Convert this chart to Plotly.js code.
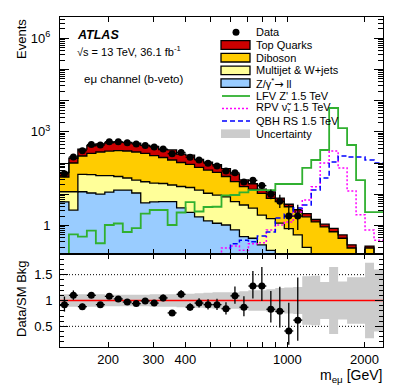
<!DOCTYPE html>
<html>
<head>
<meta charset="utf-8">
<script src="https://cdn.plot.ly/plotly-3.0.1.min.js"></script>
<style>
html, body { margin: 0; padding: 0; background: #fff; }
#plot { width: 407px; height: 391px; }
</style>
</head>
<body>
<div id="plot"></div>
<script>
// e-mu invariant mass, b-veto selection

var binEdges = [129.7, 140.5, 152.3, 165.1, 179.0, 194.0, 210.3, 228.0, 247.1, 267.9, 290.4, 314.7,
    341.1, 369.8, 400.8, 434.5, 471.0, 510.5, 553.4, 599.8, 650.2, 704.8, 763.9, 828.1, 897.6, 972.9,
    1054.6, 1143.2, 1239.1, 1343.2, 1455.9, 1578.1, 1710.6, 1854.3, 2009.9, 2178.7, 2361.6];

// backgrounds, events per bin
var zJets = [5.7, 3.1, 12.1, 11.0, 10.2, 11.8, 13.7, 13.7, 11.0, 5.3, 5.7, 5.8, 5.8, 3.7, 2.65, 1.9, 1.4, 1.18,
    1.04, 0.72, 0.44, 0.39, 0.24, 0.16, 0, 0, 0, 0, 0, 0, 0, 0, 0, 0, 0, 0];
var multijet = [6.4, 9.0, 31.7, 31.5, 29.8, 28.2, 23.5, 19.6, 17.7, 20.0, 17.3, 16.4, 14.1, 14.1, 13.9, 11.8, 9.4, 8.3,
    7.2, 5.1, 4.1, 3.2, 1.9, 1.5, 1.2, 0.8, 0.5, 0.2, 0, 0, 0, 0, 0, 0, 0, 0];
var diboson = [23.8, 88.6, 125, 164, 187, 204, 213, 211, 198, 181, 152, 129, 106, 87, 74, 59, 49, 41,
    29, 19.5, 13.0, 10.9, 8.6, 5.8, 4.6, 3.2, 2.2, 1.7, 1.3, 0.9, 0.63, 0.39, 0.19, 0, 0.19, 0];
var topQuarks = [14.3, 42.4, 114, 154, 187, 206, 220, 221, 210, 163, 170, 120, 139, 90, 89, 60, 48, 38,
    29.5, 19.7, 11.4, 7.3, 4.0, 4.5, 1.8, 0.8, 0.5, 0.5, 0.26, 0.2, 0.18, 0.11, 0.05, 0, 0.03, 0];

// signals
var lfvZprime = [0, 0.52, 0.44, 0.69, 0.27, 1.04, 1.16, 0.62, 0.83, 2.42, 3.14, 3.14, 1.04, 2.61, 5.66, 2.81, 3.92, 4.0,
    9.2, 9.5, 11.6, 13.7, 13.7, 13.7, 21.4, 21.4, 21.4, 70, 126, 263, 5830, 1320, 380, 28.7, 2.7, 2.7];
var rpvSneutrino = [0, 0, 0, 0, 0, 0, 0, 0, 0, 0, 0, 0, 0, 0, 0, 0, 0, 0,
    0.19, 0.22, 0.16, 0.26, 0.28, 0.72, 1.04, 1.29, 2.71, 6.6, 17.5, 101, 244, 70, 12.8, 2.2, 0.72, 0.34];
var qbhRS = [0, 0, 0, 0, 0, 0, 0, 0, 0, 0, 0, 0, 0, 0, 0, 0, 0, 0,
    0, 0.26, 0.34, 0.30, 0.46, 0.62, 1.74, 2.34, 3.64, 4.54, 13.7, 33.3, 108, 169, 157, 157, 126, 101];

// data (first 27 bins, rest empty)
var dataCounts = [46, 157, 250, 395, 380, 485, 485, 451, 409, 367, 328, 283, 200, 219, 155, 126, 99, 81,
    56, 49, 25, 28, 19, 10, 6, 2, 2];
var ratioValues = [0.92, 1.10, 0.88, 1.10, 0.92, 1.08, 1.03, 0.97, 0.94, 0.99, 0.95, 1.05, 0.76, 1.12, 0.87, 0.95, 0.92, 0.92,
    0.84, 1.09, 0.87, 1.28, 1.28, 0.83, 0.79, 0.41, 0.62];
// relative uncertainty on the background, per bin
var bkgUncert = [0.12, 0.12, 0.12, 0.12, 0.12, 0.11, 0.11, 0.11, 0.11, 0.11, 0.12, 0.12, 0.12, 0.13, 0.13, 0.14, 0.15, 0.16,
    0.16, 0.16, 0.18, 0.20, 0.20, 0.22, 0.24, 0.25, 0.26, 0.47, 0.48, 0.36, 0.65, 0.37, 0.45, 0.45, 0.73, 0.60];

var xTickVals = [200, 300, 400, 500, 600, 700, 800, 900, 1000, 2000];
var xTickText = ['200', '300', '400', '', '', '', '', '', '1000', '2000'];

var FONT = 'Liberation Sans, Arial, Helvetica, sans-serif';
var FLOOR = 0.001;

function floorVal(v) { return v > FLOOR ? v : FLOOR; }
function stepY(vals) {
    var out = vals.map(floorVal);
    out.push(out[out.length - 1]);
    return out;
}
function addUp(a, b) { return a.map(function (v, i) { return v + b[i]; }); }

var cumZ = zJets.slice();
var cumMJ = addUp(cumZ, multijet);
var cumVV = addUp(cumMJ, diboson);
var cumTop = addUp(cumVV, topQuarks);

var centers = [];
for (var i = 0; i < binEdges.length - 1; i++) centers.push(Math.sqrt(binEdges[i] * binEdges[i + 1]));

// Poisson-like errors (Gehrels approximations)
var nData = dataCounts.length;
var dataX = centers.slice(0, nData);
var errUp = dataCounts.map(function (n) { return Math.sqrt(n + 0.75) + 1; });
var errDown = dataCounts.map(function (n) {
    return n - n * Math.pow(1 - 1 / (9 * n) - 1 / (3 * Math.sqrt(n)), 3);
});
var xPlus = dataX.map(function (c, i) { return binEdges[i + 1] - c; });
var xMinus = dataX.map(function (c, i) { return c - binEdges[i]; });

function stackTrace(y, fillcolor, fill) {
    return {
        x: binEdges, y: stepY(y), xaxis: 'x', yaxis: 'y', mode: 'lines',
        line: {shape: 'hv', color: fill ? 'black' : 'rgba(0,0,0,0)', width: fill ? 1.3 : 0},
        fill: fill ? 'tonexty' : 'none', fillcolor: fillcolor, hoverinfo: 'skip'
    };
}
function signalTrace(y, color, dash, width) {
    return {
        x: binEdges, y: stepY(y), xaxis: 'x', yaxis: 'y', mode: 'lines',
        line: {shape: 'hv', color: color, dash: dash, width: width}, hoverinfo: 'skip'
    };
}

var zeros = zJets.map(function () { return 0; });
var bandLow = bkgUncert.map(function (u) { return 1 - u; });
var bandHigh = bkgUncert.map(function (u) { return 1 + u; });

var traces = [
    stackTrace(zeros, null, false),
    stackTrace(cumZ, '#99ccff', true),
    stackTrace(cumMJ, '#ffff99', true),
    stackTrace(cumVV, '#ffcc00', true),
    stackTrace(cumTop, '#cc0000', true),
    signalTrace(lfvZprime, '#30b030', 'solid', 1.8),
    signalTrace(rpvSneutrino, '#ff00ff', '2px,2px', 1.5),
    signalTrace(qbhRS, '#0000ff', '5px,3px', 1.5),
    {
        x: dataX, y: dataCounts, xaxis: 'x', yaxis: 'y', mode: 'markers',
        marker: {color: 'black', size: 7},
        error_y: {type: 'data', symmetric: false, array: errUp, arrayminus: errDown, color: 'black', thickness: 1.3, width: 0},
        error_x: {type: 'data', symmetric: false, array: xPlus, arrayminus: xMinus, color: 'black', thickness: 1.3, width: 0},
        hoverinfo: 'skip'
    },
    // ratio panel
    {
        x: binEdges, y: stepY(bandLow), xaxis: 'x2', yaxis: 'y2', mode: 'lines',
        line: {shape: 'hv', width: 0, color: 'rgba(0,0,0,0)'}, hoverinfo: 'skip'
    },
    {
        x: binEdges, y: stepY(bandHigh), xaxis: 'x2', yaxis: 'y2', mode: 'lines',
        line: {shape: 'hv', width: 0, color: 'rgba(0,0,0,0)'}, fill: 'tonexty', fillcolor: '#cccccc', hoverinfo: 'skip'
    },
    {
        x: [binEdges[0], binEdges[binEdges.length - 1]], y: [1, 1], xaxis: 'x2', yaxis: 'y2', mode: 'lines',
        line: {color: '#ff0000', width: 1.5}, hoverinfo: 'skip'
    },
    {
        x: dataX, y: ratioValues, xaxis: 'x2', yaxis: 'y2', mode: 'markers',
        marker: {color: 'black', size: 7},
        error_y: {
            type: 'data', symmetric: false, color: 'black', thickness: 1.3, width: 0,
            array: ratioValues.map(function (r, i) { return r * errUp[i] / dataCounts[i]; }),
            arrayminus: ratioValues.map(function (r, i) { return r * errDown[i] / dataCounts[i]; })
        },
        error_x: {type: 'data', symmetric: false, array: xPlus, arrayminus: xMinus, color: 'black', thickness: 1.3, width: 0},
        hoverinfo: 'skip'
    }
];

// axes
var xRange = [Math.log10(binEdges[0]), Math.log10(binEdges[binEdges.length - 1])];
function xAxis(extra) {
    var ax = {
        type: 'log', range: xRange, tickmode: 'array', tickvals: xTickVals, ticktext: xTickText,
        ticks: 'inside', ticklen: 5, tickwidth: 1, tickcolor: 'black',
        showline: true, linecolor: 'black', linewidth: 1, mirror: 'allticks',
        showgrid: false, zeroline: false, tickfont: {size: 13, family: FONT, color: 'black'}
    };
    for (var k in extra) ax[k] = extra[k];
    return ax;
}

var yMinor = [];
for (var d = -1; d <= 6; d++) {
    for (var m = 2; m <= 9; m++) yMinor.push(m * Math.pow(10, d));
}
var rMinor = [];
for (var r = 2; r <= 18; r++) { if (r % 5 !== 0) rMinor.push(r / 10); }

var split = 93 / 330;

// pixel -> paper helpers for the hand-made legend and labels
function px(x) { return (x - 60) / 323; }
function py(y) { return (347 - y) / 330; }

var legendRows = [32.3, 45, 57.7, 70.4, 83.1, 96, 108.5, 121, 133.7];
var legendText = ['Data', 'Top Quarks', 'Diboson', 'Multijet & W+jets',
    'Z/γ<sup>*</sup><span style="font-family:DejaVu Sans">→</span> ll',
    "LFV Z' 1.5 TeV", 'RPV ν̃<sub>τ</sub> 1.5 TeV', 'QBH RS 1.5 TeV', 'Uncertainty'];

var shapes = [
    {type: 'line', xref: 'paper', x0: 0, x1: 1, yref: 'y2', y0: 0.5, y1: 0.5, layer: 'below',
        line: {color: 'black', width: 1, dash: '1px,2px'}},
    {type: 'line', xref: 'paper', x0: 0, x1: 1, yref: 'y2', y0: 1.5, y1: 1.5, layer: 'below',
        line: {color: 'black', width: 1, dash: '1px,2px'}},
    {type: 'circle', xref: 'paper', yref: 'paper', x0: px(232.5), x1: px(239.5), y0: py(legendRows[0] + 3.5),
        y1: py(legendRows[0] - 3.5), fillcolor: 'black', line: {width: 0}}
];
var boxColors = ['#cc0000', '#ffcc00', '#ffff99', '#99ccff'];
boxColors.forEach(function (c, i) {
    var yc = legendRows[i + 1];
    shapes.push({type: 'rect', xref: 'paper', yref: 'paper', x0: px(221), x1: px(250), y0: py(yc + 4.3), y1: py(yc - 4.3),
        fillcolor: c, line: {color: 'black', width: 1.3}});
});
[['#30b030', 'solid', 1.8], ['#ff00ff', '2px,2px', 1.5], ['#0000ff', '5px,3px', 1.5]].forEach(function (s, i) {
    var yc = legendRows[i + 5];
    shapes.push({type: 'line', xref: 'paper', yref: 'paper', x0: px(222), x1: px(250), y0: py(yc), y1: py(yc),
        line: {color: s[0], dash: s[1], width: s[2]}});
});
shapes.push({type: 'rect', xref: 'paper', yref: 'paper', x0: px(221), x1: px(250), y0: py(legendRows[8] + 4.3),
    y1: py(legendRows[8] - 4.3), fillcolor: '#cccccc', line: {width: 0}});

var annotations = legendText.map(function (t, i) {
    return {text: t, xref: 'paper', yref: 'paper', x: px(254), y: py(legendRows[i]), xanchor: 'left', yanchor: 'middle',
        showarrow: false, font: {size: 11, family: FONT, color: 'black'}};
});
annotations.push(
    {text: '<b><i>ATLAS</i></b>', xref: 'paper', yref: 'paper', x: px(75), y: py(35), xanchor: 'left', yanchor: 'middle',
        showarrow: false, font: {size: 12.5, family: FONT, color: 'black'}},
    {text: '√s = 13 TeV, 36.1 fb<sup>-1</sup>', xref: 'paper', yref: 'paper', x: px(75), y: py(50.5), xanchor: 'left',
        yanchor: 'middle', showarrow: false, font: {size: 11, family: FONT, color: 'black'}},
    {text: 'eμ channel (b-veto)', xref: 'paper', yref: 'paper', x: px(82), y: py(79), xanchor: 'left', yanchor: 'middle',
        showarrow: false, font: {size: 11.5, family: FONT, color: 'black'}},
    {text: 'Events', xref: 'paper', yref: 'paper', x: px(21), y: py(17), xanchor: 'center', yanchor: 'top', textangle: -90,
        showarrow: false, font: {size: 13, family: FONT, color: 'black'}},
    {text: 'Data/SM Bkg', xref: 'paper', yref: 'paper', x: px(21), y: py(299), xanchor: 'center', yanchor: 'middle',
        textangle: -90, showarrow: false, font: {size: 13, family: FONT, color: 'black'}},
    {text: 'm<sub>eμ</sub> [GeV]', xref: 'paper', yref: 'paper', x: px(384), y: py(376), xanchor: 'right', yanchor: 'middle',
        showarrow: false, font: {size: 14, family: FONT, color: 'black'}}
);

var layout = {
    width: 407, height: 391,
    margin: {l: 60, r: 24, t: 17, b: 44},
    paper_bgcolor: 'white', plot_bgcolor: 'white',
    showlegend: false,
    font: {family: FONT, size: 13, color: 'black'},
    xaxis: xAxis({anchor: 'y', showticklabels: false}),
    xaxis2: xAxis({anchor: 'y2'}),
    yaxis: {
        type: 'log', domain: [split, 1], anchor: 'x', range: [-0.913, 6.683],
        tickmode: 'array', tickvals: [1, 10, 100, 1e3, 1e4, 1e5, 1e6],
        ticktext: ['1', '', '', '10<sup>3</sup>', '', '', '10<sup>6</sup>'],
        ticks: 'inside', ticklen: 9, tickcolor: 'black', tickwidth: 1,
        minor: {tickmode: 'array', tickvals: yMinor, ticks: 'inside', ticklen: 5, tickcolor: 'black', tickwidth: 1, showgrid: false},
        showline: true, linecolor: 'black', linewidth: 1, mirror: 'allticks',
        showgrid: false, zeroline: false, ticklabelstandoff: 6,
        tickfont: {size: 13, family: FONT, color: 'black'}
    },
    yaxis2: {
        domain: [0, split], anchor: 'x2', range: [0.1, 1.9],
        tickmode: 'array', tickvals: [0.5, 1, 1.5], ticktext: ['0.5', '1', '1.5'],
        ticks: 'inside', ticklen: 8, tickcolor: 'black', tickwidth: 1,
        minor: {tickmode: 'array', tickvals: rMinor, ticks: 'inside', ticklen: 4, tickcolor: 'black', tickwidth: 1, showgrid: false},
        showline: true, linecolor: 'black', linewidth: 1, mirror: 'allticks',
        showgrid: false, zeroline: false, ticklabelstandoff: 4,
        tickfont: {size: 13, family: FONT, color: 'black'}
    },
    shapes: shapes,
    annotations: annotations
};

Plotly.newPlot('plot', traces, layout, {displayModeBar: false, staticPlot: true});
</script>
</body>
</html>
